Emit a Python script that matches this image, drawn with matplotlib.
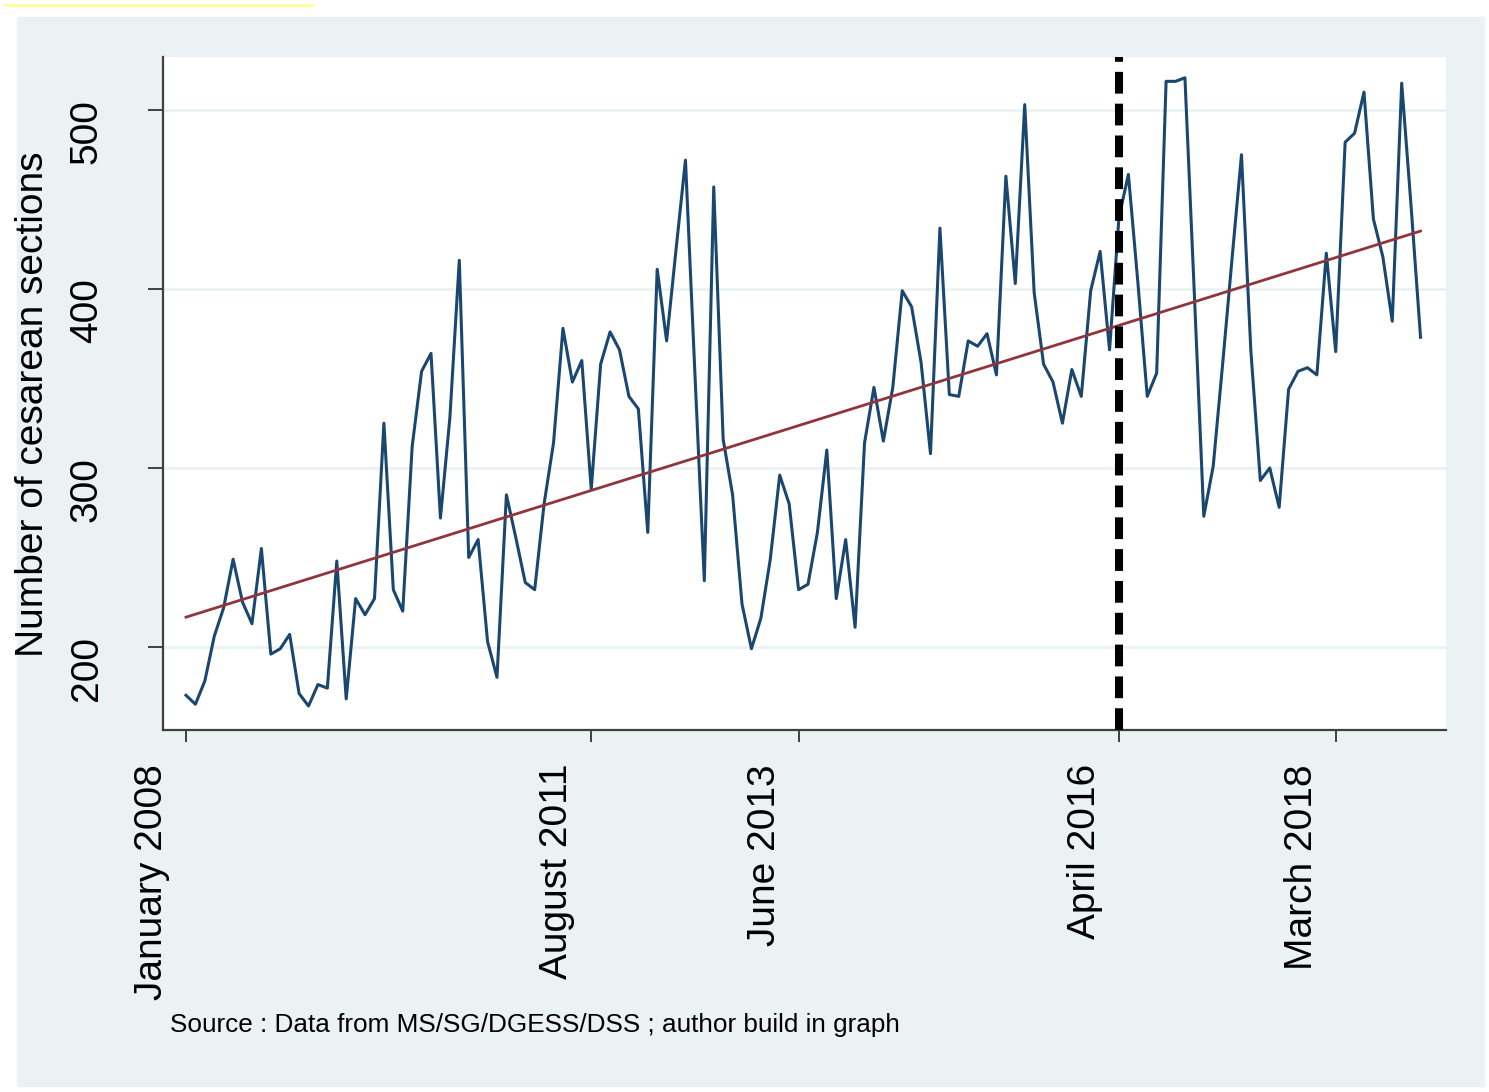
import numpy as np
import matplotlib.pyplot as plt
import matplotlib.transforms as mtransforms
from matplotlib.patches import Rectangle
from matplotlib.lines import Line2D

plt.rcParams['font.family'] = ['Liberation Sans', 'DejaVu Sans']

# monthly cesarean sections, January 2008 .. December 2018
cesareans = [173, 168, 181, 206, 222, 249, 225, 213, 255, 196, 199, 207,
             174, 167, 179, 177, 248, 171, 227, 218, 227, 325, 232, 220,
             312, 354, 364, 272, 328, 416, 250, 260, 203, 183, 285, 261,
             236, 232, 280, 314, 378, 348, 360, 288, 358, 376, 366, 340,
             333, 264, 411, 371, 422, 472, 353, 237, 457, 316, 285, 224,
             199, 216, 249, 296, 280, 232, 235, 264, 310, 227, 260, 211,
             314, 345, 315, 345, 399, 390, 359, 308, 434, 341, 340, 371,
             368, 375, 352, 463, 403, 503, 398, 358, 348, 325, 355, 340,
             399, 421, 366, 440, 464, 404, 340, 353, 516, 516, 518, 397,
             273, 301, 358, 417, 475, 365, 293, 300, 278, 344, 354, 356,
             352, 420, 365, 482, 487, 510, 439, 418, 382, 515, 446, 373]
months = np.arange(len(cesareans))

tick_months = [0, 43, 65, 99, 122]
tick_labels = ["January 2008", "August 2011", "June 2013", "April 2016", "March 2018"]
y_ticks = [200, 300, 400, 500]
break_month = 99

W, H = 1489, 1092
fig = plt.figure(figsize=(W / 100, H / 100), dpi=100)
fig.patches.append(Rectangle((17 / W, 1 - 1086 / H), (1484 - 17) / W, (1086 - 17) / H,
                             transform=fig.transFigure, color='#EAF2F3', zorder=-1))
fig.lines.append(Line2D([5 / W, 313 / W], [1 - 5 / H, 1 - 5 / H], transform=fig.transFigure,
                        color='#FFFF99', lw=2))

ax = fig.add_axes([163 / W, 1 - 730 / H, (1445.7 - 163) / W, (730 - 57) / H])
ax.set_facecolor('white')

ax.plot(months, cesareans, color='#1A476F', lw=2.2, zorder=3)
slope, intercept = np.polyfit(months, cesareans, 1)
ax.plot(months, intercept + slope * months, color='#90353B', lw=2.0, zorder=4)
ax.axvline(break_month, color='black', lw=5.8, dashes=(2.7, 1.25), zorder=5)

ax.set_xlim(-2.44, 133.67)
ax.set_ylim(153.6, 529.6)
ax.set_xticks(tick_months)
ax.set_xticklabels(tick_labels, rotation=90, fontsize=28, va='top', ha='center')
ax.set_yticks(y_ticks)
ax.set_yticklabels([str(v) for v in y_ticks], rotation=90, fontsize=28, va='center')
ax.grid(axis='y', color='#EAF2F3', lw=2)
ax.set_axisbelow(True)

for s in ['top', 'right']:
    ax.spines[s].set_visible(False)
for s in ['left', 'bottom']:
    ax.spines[s].set_color('#404040')
    ax.spines[s].set_linewidth(1.6)

ax.tick_params(axis='x', length=8.6, width=1.4, color='#404040', pad=15.8)
ax.tick_params(axis='y', length=10.8, width=1.4, color='#404040', pad=31)

for lab in ax.get_xticklabels():
    lab.set_transform(lab.get_transform() + mtransforms.ScaledTranslation(-34 / 100, 0, fig.dpi_scale_trans))
for lab in ax.get_yticklabels():
    lab.set_transform(lab.get_transform() + mtransforms.ScaledTranslation(0, -22 / 100, fig.dpi_scale_trans))

ax.set_ylabel("Number of cesarean sections", fontsize=28)
ax.yaxis.set_label_coords(-0.087, 0.484)

fig.text(170 / W, 1 - 1025 / H, "Source : Data from MS/SG/DGESS/DSS ; author build in graph",
         fontsize=18.8, va='center', ha='left')

fig.savefig("out.png", dpi=100)
